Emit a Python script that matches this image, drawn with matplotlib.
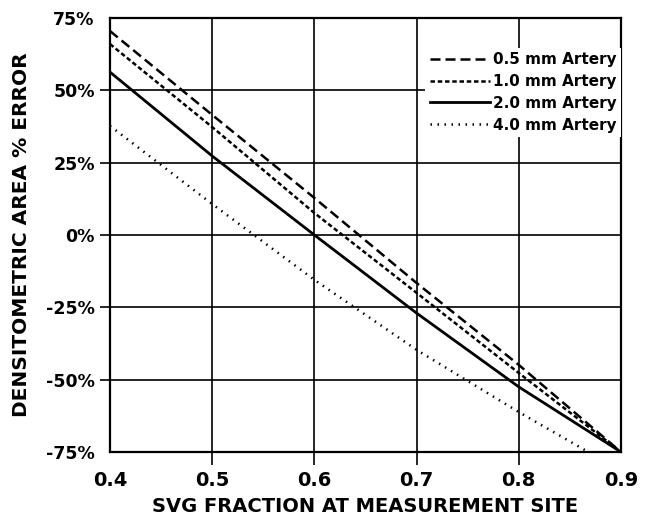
import numpy as np
import matplotlib
matplotlib.use("Agg")
import matplotlib.pyplot as plt

plt.rcParams['font.family'] = ['DejaVu Sans']
plt.rcParams['font.weight'] = 'bold'

# values (SVG fraction -> % error)
x = [0.4, 0.5, 0.6, 0.7, 0.8, 0.9]
art05 = [70.5, 41.5, 12.8, -16.6, -44.9, -75.0]
art10 = [66.0, 37.3, 7.6, -20.0, -47.7, -75.0]
art20 = [56.3, 27.3, 0.0, -27.0, -52.5, -75.0]
x40 = [0.4, 0.5, 0.6, 0.7, 0.8, 0.868]
art40 = [37.7, 10.7, -15.5, -39.7, -61.2, -75.0]

xticks = [0.4, 0.5, 0.6, 0.7, 0.8, 0.9]
yticks = [-75, -50, -25, 0, 25, 50, 75]

fig = plt.figure(figsize=(6.45, 5.19), dpi=100)
ax = fig.add_axes([110/645, 67/519, 511/645, 434/519])

ax.plot(x, art05, color='black', lw=1.8, ls=(0, (4, 2)), label='0.5 mm Artery')
ax.plot(x, art10, color='black', lw=1.8, ls=(0, (1.8, 1.1)), label='1.0 mm Artery')
ax.plot(x, art20, color='black', lw=2.0, ls='-', label='2.0 mm Artery')
ax.plot(x40, art40, color='black', lw=1.8, ls=(0, (0.6, 2.2)), label='4.0 mm Artery')

ax.set_xlim(0.4, 0.9)
ax.set_ylim(-75, 75)
ax.set_xticks(xticks)
ax.set_xticklabels(['0.4', '0.5', '0.6', '0.7', '0.8', '0.9'])
ax.set_yticks(yticks)
ax.set_yticklabels([f'{v}%' for v in yticks])
ax.grid(True, color='black', lw=1.2)
ax.tick_params(axis='y', direction='out', length=7, width=1.2, labelsize=12.5, pad=4)
ax.tick_params(axis='x', direction='out', length=9.5, width=1.2, labelsize=14, pad=4)
for t in [ax.xaxis.get_major_ticks()[0], ax.xaxis.get_major_ticks()[-1],
          ax.yaxis.get_major_ticks()[0], ax.yaxis.get_major_ticks()[-1]]:
    t.tick1line.set_visible(False)
for s in ax.spines.values():
    s.set_linewidth(1.6)

ax.set_xlabel('SVG FRACTION AT MEASUREMENT SITE', fontsize=14, fontweight='bold', labelpad=5)
ax.set_ylabel('DENSITOMETRIC AREA % ERROR', fontsize=14.5, fontweight='bold', labelpad=11)

leg = ax.legend(loc='upper right', bbox_to_anchor=(1.0, 0.932), fontsize=11,
                handlelength=3.9, handletextpad=0.2, labelspacing=0.45,
                frameon=True, fancybox=False, borderpad=0.3, borderaxespad=0)
leg.get_frame().set_edgecolor('none')
leg.get_frame().set_facecolor('white')
leg.get_frame().set_alpha(1)
leg.set_zorder(5)

fig.savefig('out.png', dpi=100)
